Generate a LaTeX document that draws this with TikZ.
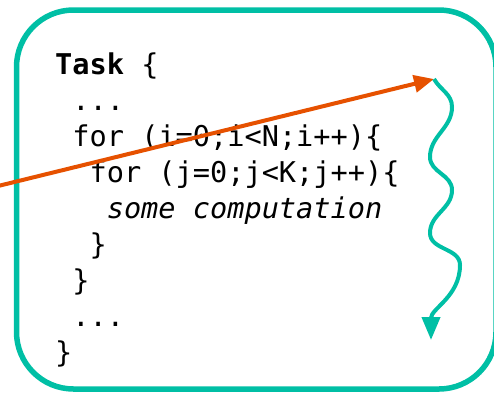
\documentclass[tikz,border=0pt]{standalone}
\usepackage{fontspec}
\setmonofont{DejaVu Sans Mono}
\usetikzlibrary{arrows.meta}
\definecolor{tealc}{HTML}{00BFA5}
\definecolor{orangec}{HTML}{E65100}
\tikzset{
  codeline/.style={anchor=base west, inner sep=0pt, font=\fontsize{28.6}{36}\selectfont\ttfamily, text=black},
  frame/.style={draw=tealc, line width=5.5pt, rounded corners=57pt},
  orangearrow/.style={draw=orangec, line width=4pt, -{Triangle[length=20pt,width=17pt]}},
  wavearrow/.style={draw=tealc, line width=4pt, -{Triangle[length=23pt,width=18pt]}}
}
\begin{document}
\begin{tikzpicture}[x=1pt,y=-1pt]
\useasboundingbox (0,0) rectangle (494,394);
\draw[frame] (16.5,10) rectangle (496,389);
\def\cw{17.2}
\node[codeline] (l1) at (55,74) {\bfseries Task\mdseries{} \{};
\node[codeline] (l2) at (55+\cw,110) {...};
\node[codeline] (l3) at (55+\cw,146) {for (i=0;i<N;i++)\{};
\node[codeline] (l4) at (55+2*\cw,182) {for (j=0;j<K;j++)\{};
\node[codeline] (l5) at (55+3*\cw,218) {\itshape some computation};
\node[codeline] (l6) at (55+2*\cw,254) {\}};
\node[codeline] (l7) at (55+\cw,290) {\}};
\node[codeline] (l8) at (55+\cw,326) {...};
\node[codeline] (l9) at (55,362) {\}};
\coordinate (src) at (-6,187);
\coordinate (top) at (434,79);
\coordinate (w1) at (452,107);
\coordinate (w2) at (430,157);
\coordinate (w3) at (452,190);
\coordinate (w4) at (430,233);
\coordinate (w5) at (460,265);
\coordinate (bot) at (431,340);
\draw[orangearrow] (src) -- (top);
\draw[wavearrow] (top) to[out=-60,in=90] (w1) to[out=-90,in=90] (w2)
  to[out=-90,in=90] (w3) to[out=-90,in=90] (w4) to[out=-90,in=90] (w5)
  to[out=-90,in=90] (bot);
\end{tikzpicture}
\end{document}
